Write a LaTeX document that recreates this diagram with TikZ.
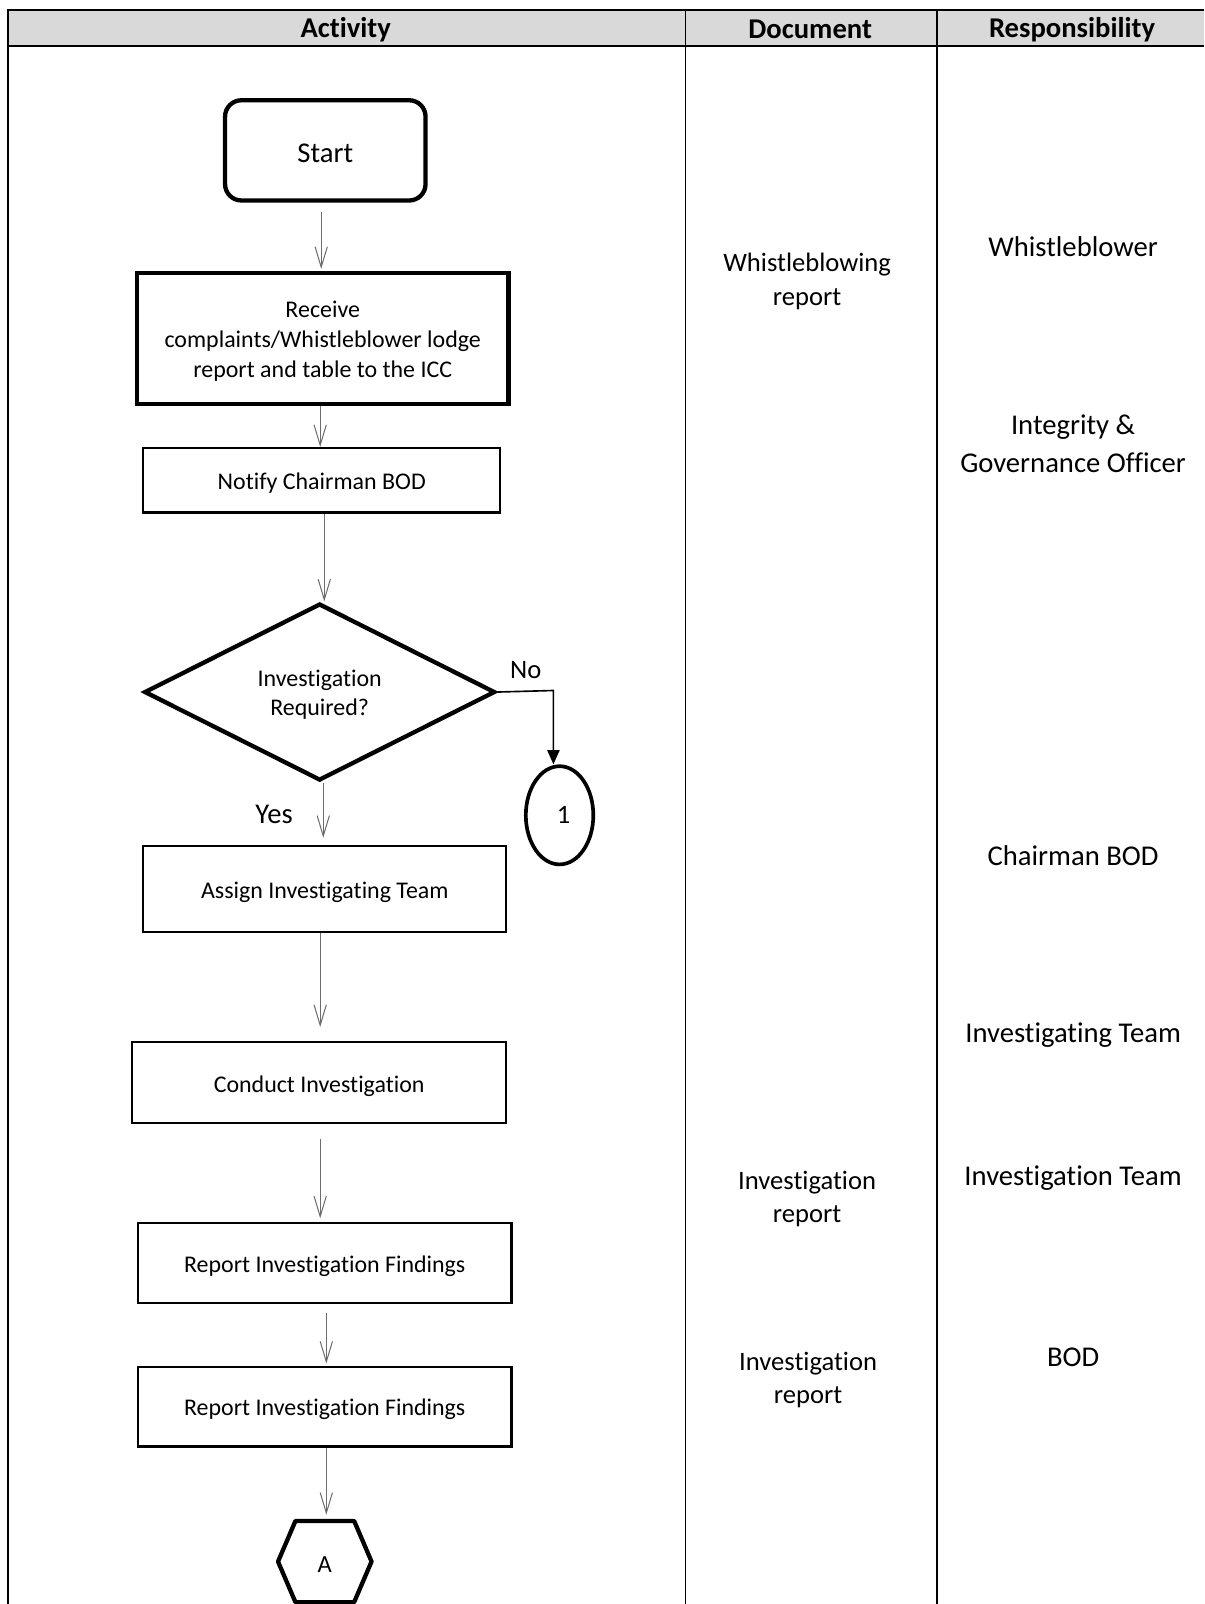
\documentclass[tikz,border=0pt]{standalone}
\usepackage{fontspec}
\setmainfont{Carlito}[Ligatures={NoCommon,NoRequired,NoContextual}]
\usetikzlibrary{arrows.meta,shapes.geometric}
\newcommand{\dn}[1]{\raisebox{-3pt}[\height][\depth]{#1}}
\newcommand{\nt}{t\kern0pt i}
\begin{document}
\begin{tikzpicture}[x=1pt,y=-1pt,
  grid/.style={line width=1.6pt,black},
  hdr/.style={font=\fontsize{28}{33}\selectfont\bfseries},
  act/.style={font=\fontsize{23.4}{29}\selectfont,align=center},
  big/.style={font=\fontsize{28}{37}\selectfont,align=center},
  doc/.style={font=\fontsize{26}{33}\selectfont,align=center},
  box/.style={draw,rectangle,line width=2pt,inner sep=0pt,act},
  thickbox/.style={draw,rectangle,line width=4.2pt,inner sep=0pt,act},
  flow/.style={draw=gray!85!black,line width=1pt,-{Straight Barb[length=20pt,width=12pt,line width=1pt]}},
  noflow/.style={draw=black,line width=1.6pt,-{Triangle[length=14pt,width=12pt]}}
]
\useasboundingbox (0,0) rectangle (1177,1568);
% table
\fill[gray!30] (8,10) rectangle (1177,45);
\draw[grid] (1177,10) -- (8,10) -- (8,1568);
\draw[grid] (8,45) -- (1177,45);
\draw[grid] (670,10) -- (670,1568);
\draw[grid] (916,10) -- (916,1568);
\node[hdr] (h1) at (338,29) {Ac\nt vity};
\node[hdr] (h2) at (792,29) {Document};
\node[hdr] (h3) at (1048,29) {Responsibility};

% activity nodes
\node[draw,line width=4.2pt,rounded corners=16pt,minimum width=196pt,minimum height=98pt,inner sep=0pt,big] (start) at (318,147) {\dn{Start}};
\node[thickbox,minimum width=363pt,minimum height=128pt] (recv) at (315.5,331) {\dn{\begin{tabular}{@{}c@{}}Receive\\complaints/Whistleblower lodge\\report and table to the ICC\end{tabular}}};
\node[box,minimum width=349pt,minimum height=63pt] (notify) at (314.5,469.5) {\dn{No\nt fy Chairman BOD}};
\node[draw,diamond,line width=4.2pt,inner sep=0pt,aspect=1.98,minimum width=343pt,minimum height=173pt,act] (dec) at (312.5,676.5) {\dn{\begin{tabular}{@{}c@{}}Investiga\nt on\\Required?\end{tabular}}};
\node[draw,ellipse,line width=3.6pt,minimum width=66pt,minimum height=96pt,inner sep=0pt,font=\fontsize{26}{30}\selectfont] (c1) at (547,797) {\hspace{8pt}1};
\node[box,minimum width=355pt,minimum height=84pt] (assign) at (317.5,869) {\dn{Assign Inves\nt gating Team}};
\node[box,minimum width=366pt,minimum height=79pt] (conduct) at (312,1058.5) {\dn{Conduct Investiga\nt on}};
\node[box,minimum width=365pt,minimum height=78pt] (rep1) at (317.5,1235) {\dn{Report Investiga\nt on Findings}};
\node[box,minimum width=365pt,minimum height=78pt] (rep2) at (317.5,1375) {\dn{Report Investiga\nt on Findings}};
\node[minimum width=91pt,minimum height=79pt,inner sep=0pt,font=\fontsize{24}{28}\selectfont] (hexA) at (317.5,1526.5) {\dn{A}};
\draw[line width=4.2pt,line join=round] (hexA.west) -- ([xshift=17pt]hexA.north west) -- ([xshift=-17pt]hexA.north east) -- (hexA.east) -- ([xshift=-17pt]hexA.south east) -- ([xshift=17pt]hexA.south west) -- cycle;

% labels
\node[big] (yes) at (268,796) {Yes};
\node[doc] (no) at (514,655) {No};

% connectors
\draw[flow,shorten <=9pt,shorten >=2pt] ([xshift=-4pt]start.south) -- ([xshift=-1.5pt]recv.north);
\draw[flow] ([xshift=-2.5pt]recv.south) -- ([xshift=-1.5pt]notify.north);
\draw[flow] ([xshift=2.5pt]notify.south) -- ([xshift=4.5pt]dec.north);
\coordinate (noc) at (541,675);
\draw[noflow] (dec.east) -- (noc) -- (c1.north -| noc);
\draw[flow,shorten >=7pt] ([xshift=3.5pt]dec.south) -- ([xshift=-1.5pt]assign.north);
\draw[flow,shorten >=14pt] ([xshift=-4.5pt]assign.south) -- ([xshift=1pt]conduct.north);
\draw[flow,shorten <=14pt,shorten >=4pt] ([xshift=1pt]conduct.south) -- ([xshift=-4.5pt]rep1.north);
\draw[flow,shorten <=9pt,shorten >=2pt] ([xshift=1.5pt]rep1.south) -- ([xshift=1.5pt]rep2.north);
\draw[flow,shorten >=6pt] ([xshift=1.5pt]rep2.south) -- ([xshift=1.5pt]hexA.north);

% document column
\node[doc] (d1) at (789,275) {Whistleblowing\\report};
\node[doc] (d2) at (789,1172) {Investiga\nt on\\report};
\node[doc] (d3) at (790,1349) {Investiga\nt on\\report};

% responsibility column
\node[big] (r1) at (1049,241) {Whistleblower};
\node[big] (r2) at (1049,434) {Integrity \&\\Governance Officer};
\node[big] (r3) at (1049,836) {Chairman BOD};
\node[big] (r4) at (1049,1012) {Inves\nt gating Team};
\node[big] (r5) at (1049,1152) {Investiga\nt on Team};
\node[big] (r6) at (1049,1327) {BOD};
\end{tikzpicture}
\end{document}
